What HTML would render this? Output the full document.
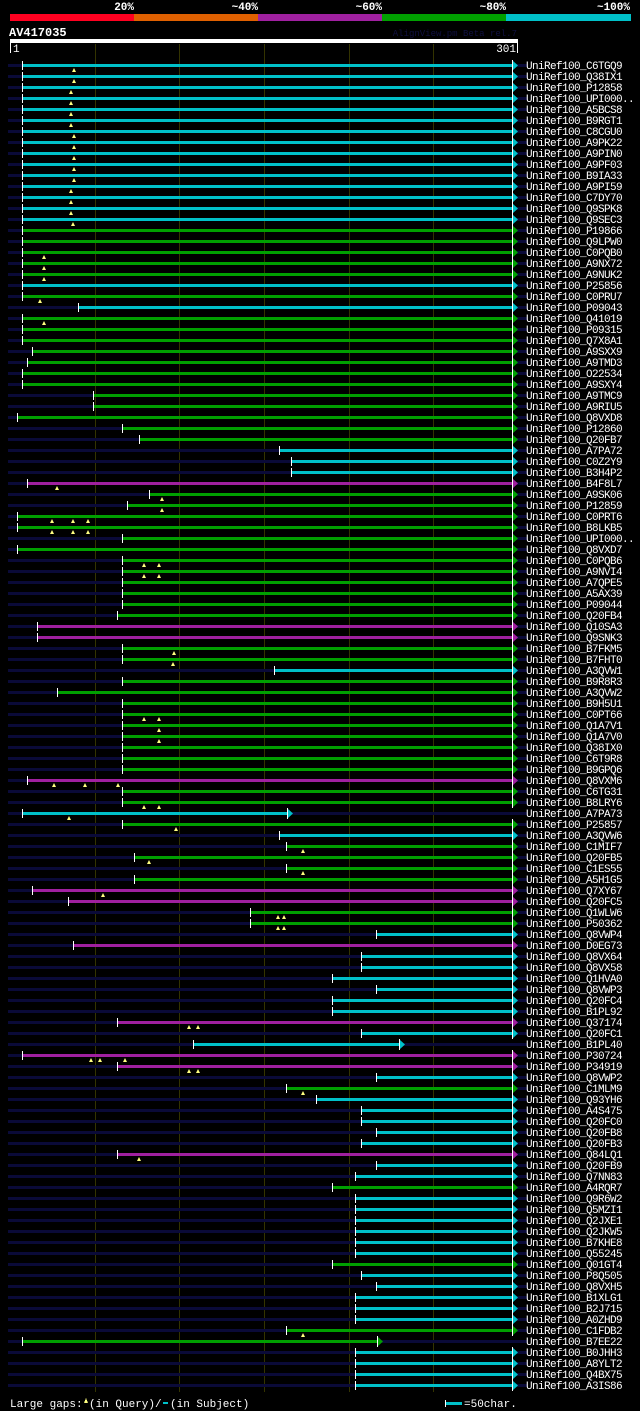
<!DOCTYPE html>
<html><head><meta charset="utf-8"><style>
html,body{margin:0;padding:0;background:#000;}
svg{display:block;}
text{font-family:"Liberation Mono","DejaVu Sans Mono",monospace;}
</style></head><body>
<svg id="chart" width="640" height="1411" viewBox="0 0 640 1411" xmlns="http://www.w3.org/2000/svg" shape-rendering="crispEdges">
<rect x="0" y="0" width="640" height="1411" fill="#000"/>
<g id="header">
 <rect x="10" y="14" width="124" height="7" fill="#ff0020"/>
 <rect x="134" y="14" width="124" height="7" fill="#e06000"/>
 <rect x="258" y="14" width="124" height="7" fill="#a020a0"/>
 <rect x="382" y="14" width="124" height="7" fill="#00a000"/>
 <rect x="506" y="14" width="125" height="7" fill="#00c0c8"/>
 <g fill="#fff" font-size="11" font-weight="bold" text-anchor="end">
  <text x="134" y="10">20%</text>
  <text x="258" y="10">~40%</text>
  <text x="382" y="10">~60%</text>
  <text x="506" y="10">~80%</text>
  <text x="630" y="10">~100%</text>
 </g>
 <text x="9" y="36" fill="#fff" font-size="12" font-weight="bold">AV417035</text>
 <text x="517" y="36" fill="#101040" font-size="9" text-anchor="end">AlignView.pm Beta rel.7</text>
 <rect x="10" y="39" width="508" height="4" fill="#fff"/>
 <rect x="10" y="43" width="1" height="10" fill="#fff"/>
 <rect x="517" y="43" width="1" height="10" fill="#fff"/>
 <text x="13" y="52" fill="#fff" font-size="11">1</text>
 <text x="516" y="52" fill="#fff" font-size="11" text-anchor="end">301</text>
</g>
<g id="grid"></g>
<g id="rows"></g>
<g id="footer">
 <text x="10" y="1407" fill="#fff" font-size="11">Large gaps:</text>
 <polygon points="84,1403 86,1398 88,1403" fill="#ffff80"/>
 <text x="89" y="1407" fill="#fff" font-size="11">(in Query)/</text>
 <rect x="163" y="1402" width="5" height="2" fill="#00c0c8"/>
 <text x="170" y="1407" fill="#fff" font-size="11">(in Subject)</text>
 <rect x="445" y="1400" width="1" height="7" fill="#fff"/>
 <rect x="446" y="1402" width="16" height="3" fill="#00c0c8"/>
 <text x="464" y="1407" fill="#fff" font-size="11">=50char.</text>
</g>
</svg>
<script>
const names = ["C6TGQ9","Q38IX1","P12858","UPI000..","A5BCS8","B9RGT1","C8CGU0","A9PK22","A9PIN0","A9PF03","B9IA33","A9PI59","C7DY70","Q9SPK8","Q9SEC3","P19866","Q9LPW0","C0PQB0","A9NX72","A9NUK2","P25856","C0PRU7","P09043","Q41019","P09315","Q7X8A1","A9SXX9","A9TMD3","O22534","A9SXY4","A9TMC9","A9RIU5","Q8VXD8","P12860","Q20FB7","A7PA72","C0Z2Y9","B3H4P2","B4F8L7","A9SK06","P12859","C0PRT6","B8LKB5","UPI000..","Q8VXD7","C0PQB6","A9NVI4","A7QPE5","A5AX39","P09044","Q20FB4","Q10SA3","Q9SNK3","B7FKM5","B7FHT0","A3QVW1","B9R8R3","A3QVW2","B9H5U1","C0PT66","Q1A7V1","Q1A7V0","Q38IX0","C6T9R8","B9GPQ6","Q8VXM6","C6TG31","B8LRY6","A7PA73","P25857","A3QVW6","C1MIF7","Q20FB5","C1ES55","A5H1G5","Q7XY67","Q20FC5","Q1WLW6","P50362","Q8VWP4","D0EG73","Q8VX64","Q8VX58","Q1HVA0","Q8VWP3","Q20FC4","B1PL92","Q37174","Q20FC1","B1PL40","P30724","P34919","Q8VWP2","C1MLM9","Q93YH6","A4S475","Q20FC0","Q20FB8","Q20FB3","Q84LQ1","Q20FB9","Q7NN83","A4RQR7","Q9R6W2","Q5MZI1","Q2JXE1","Q2JKW5","B7KHE8","Q55245","Q01GT4","P8Q505","Q8VXH5","B1XLG1","B2J715","A0ZHD9","C1FDB2","B7EE22","B0JHH3","A8YLT2","Q4BX75","A3IS86"];
const starts = [8,8,8,8,8,8,8,8,8,8,8,8,8,8,8,8,8,8,8,8,8,8,41,8,8,8,14,11,8,8,50,50,5,67,77,160,167,167,11,83,70,5,5,67,5,67,67,67,67,67,64,17,17,67,67,157,67,29,67,67,67,67,67,67,67,11,67,67,8,67,160,164,74,164,74,14,35,143,143,217,38,208,208,191,217,191,191,64,208,109,8,64,217,164,182,208,208,217,208,64,217,205,191,205,205,205,205,205,205,191,208,217,205,205,205,164,8,205,205,205,205];
const ends = [301,301,301,301,301,301,301,301,301,301,301,301,301,301,301,301,301,301,301,301,301,301,301,301,301,301,301,301,301,301,301,301,301,301,301,301,301,301,301,301,301,301,301,301,301,301,301,301,301,301,301,301,301,301,301,301,301,301,301,301,301,301,301,301,301,301,301,301,168,301,301,301,301,301,301,301,301,301,301,301,301,301,301,301,301,301,301,301,301,234,301,301,301,301,301,301,301,301,301,301,301,301,301,301,301,301,301,301,301,301,301,301,301,301,301,301,221,301,301,301,301];
const identity = ["ccccccccccccccc","ggggg","c","g","c","gggggggggggg","ccc","p","gggggggggggg","pp","gg","c","ggggggggg","p","gg","c","g","c","gggg","pp","gg","c","p","cccccc","p","cc","pp","c","g","ccccc","p","cc","g","cccccc","g","ccccc","gg","cccc"].join("");
const queryGaps = [[39],[39],[37],[37],[37],[37],[39],[39],[39],[39],[39],[37],[37],[37],[38],[],[],[21],[21],[21],[],[19],[],[21],[],[],[],[],[],[],[],[],[],[],[],[],[],[],[29],[91],[91],[26,38,47],[26,38,47],[],[],[80,89],[80,89],[],[],[],[],[],[],[98],[97],[],[],[],[],[80,89],[89],[89],[],[],[],[27,45,65],[],[80,89],[36],[99],[],[174],[83],[174],[],[56],[],[159,163],[159,163],[],[],[],[],[],[],[],[],[107,112],[],[],[49,54,69],[107,112],[],[174],[],[],[],[],[],[77],[],[],[],[],[],[],[],[],[],[],[],[],[],[],[],[174],[],[],[],[],[]];
const gridTicks = [51,101,151,201,251];

const colorMap = {c:"#00c0c8", g:"#00a000", p:"#a020a0"};
const x0 = 10, x1 = 518, qLen = 301;
function xScale(p){ return Math.round(x0 + (p-1)*(x1-x0)/(qLen-1)); }
const rowY0 = 65, rowStep = 11.0;
function yScale(i){ return Math.round(rowY0 + i*rowStep); }
const NS = "http://www.w3.org/2000/svg";
function mk(tag, attrs, parent){ const e=document.createElementNS(NS,tag); for(const k in attrs) e.setAttribute(k, attrs[k]); parent.appendChild(e); return e; }

const grid = document.getElementById('grid');
gridTicks.forEach(t=>{
  const l = mk('rect',{x:xScale(t),y:44,width:1,height:1348,fill:"#333300"},grid);
  
  
});

const rows = document.getElementById('rows');
names.forEach((n,i)=>{
  const y = yScale(i);
  const g = mk('g',{},rows);
  
  
  const bg = mk('rect',{x:8,y:y-1,width:519,height:3,fill:"#0a0a38"},g);
  
  
  const sx = xScale(starts[i]), ex = xScale(ends[i]);
  const col = colorMap[identity[i]];
  const bar = mk('rect',{x:sx,y:y-1,width:ex-5-sx,height:3,fill:col},g);
  
  
  const tk = mk('rect',{x:sx,y:y-4,width:1,height:9,fill:"#fff"},g);
  
  
  const ar = mk('polygon',{points:`${ex-5},${y-4} ${ex},${y+0.5} ${ex-5},${y+5}`,fill:col,"shape-rendering":"auto"},g);
  
  
  const al = mk('rect',{x:ex-6,y:y-5,width:1,height:11,fill:"#fff"},g);
  
  
  queryGaps[i].forEach(p=>{
    const gx = xScale(p);
    const m = mk('polygon',{points:`${gx-2},${y+7} ${gx},${y+3} ${gx+2},${y+7}`,fill:"#ffff80","shape-rendering":"auto"},g);
    
    
  });
  const t = mk('text',{x:526,y:y+4,fill:"#fff","font-size":"11","letter-spacing":"-0.6"},g);
  t.textContent = "UniRef100_"+n;
  
  
});
</script>
</body></html>
